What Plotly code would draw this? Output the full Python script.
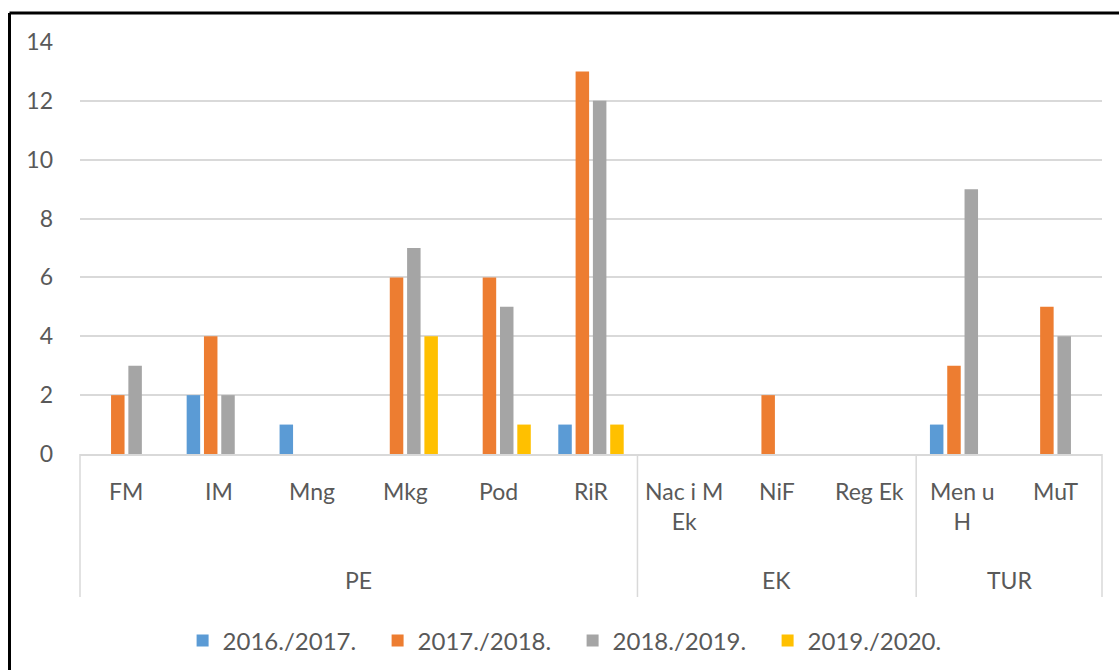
import plotly.graph_objects as go

# ---- data ----
categories = ["FM", "IM", "Mng", "Mkg", "Pod", "RiR", "Nac i M Ek", "NiF", "Reg Ek", "Men u H", "MuT"]
cat_labels = ["FM", "IM", "Mng", "Mkg", "Pod", "RiR", "Nac i M<br>Ek", "NiF", "Reg Ek", "Men u<br>H", "MuT"]
group_names = ["PE", "EK", "TUR"]
group_sizes = [6, 3, 2]

series_names = ["2016./2017.", "2017./2018.", "2018./2019.", "2019./2020."]
s2016 = [0, 2, 1, 0, 0, 1, 0, 0, 0, 1, 0]
s2017 = [2, 4, 0, 6, 6, 13, 0, 2, 0, 3, 5]
s2018 = [3, 2, 0, 7, 5, 12, 0, 0, 0, 9, 4]
s2019 = [0, 0, 0, 4, 1, 1, 0, 0, 0, 0, 0]
series_values = [s2016, s2017, s2018, s2019]
colors = ["#5B9BD5", "#ED7D31", "#A5A5A5", "#FFC000"]

# ---- layout geometry ----
W, H = 1119, 670
ML, MR, MT, MB = 80, 17, 42, 216
PH = H - MT - MB
PW = W - ML - MR
TEXT = "#595959"
FONT = "Lato"
FS = 23


def py(pix):
    return (H - MB - pix) / PH


def px(pix):
    return (pix - ML) / PW


fig = go.Figure()
for name, vals, col in zip(series_names, series_values, colors):
    fig.add_trace(go.Bar(x=list(range(len(categories))), y=vals, name=name,
                         marker=dict(color=col, line=dict(width=0))))

n = len(categories)
annotations = []
for i, lab in enumerate(cat_labels):
    annotations.append(dict(x=i, xref="x", y=py(475), yref="paper", text=lab,
                            showarrow=False, yanchor="top", xanchor="center",
                            font=dict(family=FONT, size=FS, color=TEXT)))

shapes = []
start = 0
bounds = [0]
for g, size in zip(group_names, group_sizes):
    center = start + (size - 1) / 2
    annotations.append(dict(x=center, xref="x", y=py(580), yref="paper", text=g,
                            showarrow=False, yanchor="middle", xanchor="center",
                            font=dict(family=FONT, size=FS, color=TEXT)))
    start += size
    bounds.append(start)

for b in bounds:
    xp = b / n
    shapes.append(dict(type="line", xref="paper", yref="paper", x0=xp, x1=xp,
                       y0=0, y1=py(597), line=dict(color="#D9D9D9", width=1.5)))

# outer frame (top and left black border)
shapes.append(dict(type="line", xref="paper", yref="paper", x0=px(9.5), x1=px(1130),
                   y0=py(13), y1=py(13), line=dict(color="black", width=3)))
shapes.append(dict(type="line", xref="paper", yref="paper", x0=px(9.5), x1=px(9.5),
                   y0=py(13), y1=py(690), line=dict(color="black", width=3)))

fig.update_layout(
    width=W, height=H,
    margin=dict(l=ML, r=MR, t=MT, b=MB),
    paper_bgcolor="white", plot_bgcolor="white",
    barmode="group", bargap=0.255, bargroupgap=0.22,
    font=dict(family=FONT, size=FS, color=TEXT),
    xaxis=dict(range=[-0.5, n - 0.5], showticklabels=False, showgrid=False,
               zeroline=False, showline=True, linecolor="#D9D9D9", linewidth=1.5,
               ticks=""),
    yaxis=dict(range=[0, 14], dtick=2, showgrid=True, gridcolor="#D9D9D9",
               gridwidth=1.5, zeroline=False, showline=False, ticks="",
               ticklabelstandoff=26,
               tickfont=dict(family=FONT, size=FS, color=TEXT)),
    legend=dict(orientation="h", x=0.482, xanchor="center",
                yref="container", y=(H - 641) / H, yanchor="middle",
                font=dict(family=FONT, size=24, color=TEXT),
                entrywidth=150, entrywidthmode="pixels", itemclick=False),
    annotations=annotations,
    shapes=shapes,
    showlegend=True,
)

fig.write_html("out.html", config={"displayModeBar": False},
               post_script="document.body.style.margin='0';")
